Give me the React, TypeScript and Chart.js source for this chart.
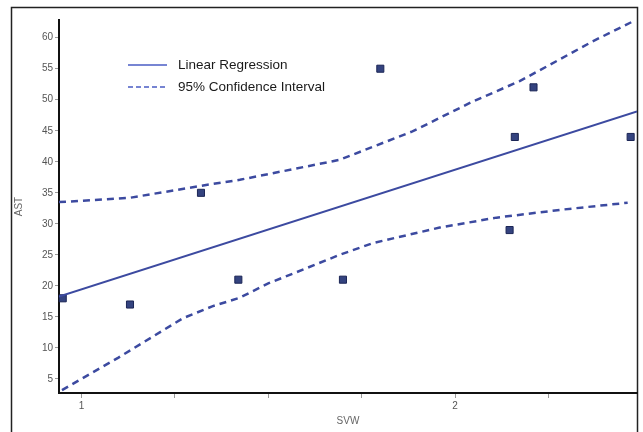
import React, { useEffect, useRef } from "react";
import { Chart, registerables } from "chart.js";

Chart.register(...registerables);

// Observed points (SVW, AST)
const svw = [0.95, 1.13, 1.32, 1.42, 1.70, 1.80, 2.146, 2.16, 2.21, 2.47];
const ast = [18, 17, 35, 21, 21, 55, 29, 44, 52, 44];

// Linear regression line (read at the plot edges)
const fitX = [0.94, 2.487];
const fitY = [18.3, 48.1];

// 95% confidence interval, upper band
const upperX = [0.94, 1.13, 1.317, 1.424, 1.69, 1.886, 2.047, 2.173, 2.271, 2.368, 2.472];
const upperY = [33.5, 34.2, 36.1, 37.1, 40.3, 44.9, 49.7, 53.0, 56.2, 59.4, 62.5];

// 95% confidence interval, lower band
const lowerX = [0.948, 1.098, 1.272, 1.35, 1.424, 1.50, 1.571, 1.691, 1.78, 1.959, 2.111, 2.288, 2.462];
const lowerY = [3.2, 8.4, 14.8, 16.7, 18.1, 20.4, 22.1, 25.0, 26.9, 29.4, 31.0, 32.3, 33.4];

const xTicks = [1, 1.25, 1.5, 1.75, 2, 2.25];
const yTicks = [5, 10, 15, 20, 25, 30, 35, 40, 45, 50, 55, 60];

const legendLabels = ["Linear Regression", "95% Confidence Interval"];

const zip = (xs: number[], ys: number[]) => xs.map((x, i) => ({ x, y: ys[i] }));

const LINE_COLOR = "#3c4aa0";
const FONT = "'Liberation Sans', Arial, sans-serif";

export default function App() {
  const ref = useRef<HTMLCanvasElement | null>(null);

  useEffect(() => {
    if (!ref.current) return;

    const framePlugin = {
      id: "frame",
      beforeDraw(chart: any) {
        const ctx = chart.ctx;
        ctx.save();
        ctx.fillStyle = "#ffffff";
        ctx.fillRect(0, 0, chart.width, chart.height);
        ctx.strokeStyle = "#222222";
        ctx.lineWidth = 1.5;
        ctx.strokeRect(11.5, 7.5, 626, 440);
        ctx.restore();
      },
    };

    const legendPlugin = {
      id: "customLegend",
      afterDatasetsDraw(chart: any) {
        const ctx = chart.ctx;
        ctx.save();
        const items = [
          { y: 65, dash: [] as number[], text: legendLabels[0] },
          { y: 87, dash: [5, 3], text: legendLabels[1] },
        ];
        items.forEach((it) => {
          ctx.beginPath();
          ctx.setLineDash(it.dash);
          ctx.strokeStyle = "#4a5cc4";
          ctx.lineWidth = 1.3;
          ctx.moveTo(128, it.y);
          ctx.lineTo(167, it.y);
          ctx.stroke();
          ctx.setLineDash([]);
          ctx.fillStyle = "#1a1a1a";
          ctx.font = `13.5px ${FONT}`;
          ctx.textBaseline = "middle";
          ctx.textAlign = "left";
          ctx.fillText(it.text, 178, it.y);
        });
        ctx.restore();
      },
    };

    const chart = new Chart(ref.current, {
      type: "scatter",
      data: {
        datasets: [
          {
            label: legendLabels[1] + " upper",
            data: zip(upperX, upperY),
            showLine: true,
            borderColor: LINE_COLOR,
            borderWidth: 2.5,
            borderDash: [7, 5],
            pointRadius: 0,
            tension: 0,
            fill: false,
          },
          {
            label: legendLabels[1] + " lower",
            data: zip(lowerX, lowerY),
            showLine: true,
            borderColor: LINE_COLOR,
            borderWidth: 2.5,
            borderDash: [7, 5],
            pointRadius: 0,
            tension: 0,
            fill: false,
          },
          {
            label: legendLabels[0],
            data: zip(fitX, fitY),
            showLine: true,
            borderColor: LINE_COLOR,
            borderWidth: 2,
            pointRadius: 0,
            fill: false,
          },
          {
            label: "AST",
            data: zip(svw, ast),
            showLine: false,
            pointStyle: "rect",
            pointRadius: 5,
            backgroundColor: "#34437f",
            borderColor: "#1c2656",
            borderWidth: 1,
            clip: false,
          } as any,
        ],
      },
      options: {
        responsive: false,
        animation: false,
        devicePixelRatio: 1,
        layout: { padding: { left: 0, top: 20, right: 6, bottom: 0 } },
        plugins: {
          legend: { display: false },
          tooltip: { enabled: false },
        },
        scales: {
          x: {
            type: "linear",
            min: 0.94,
            max: 2.487,
            afterBuildTicks: (scale: any) => {
              scale.ticks = xTicks.map((v) => ({ value: v }));
            },
            afterFit: (scale: any) => {
              scale.height = 39;
            },
            ticks: {
              autoSkip: false,
              maxRotation: 0,
              padding: 2,
              color: "#555555",
              font: { family: FONT, size: 10 },
              callback: (v: any) => (v === 1 || v === 2 ? String(v) : ""),
            },
            grid: { drawOnChartArea: false, tickLength: 5, color: "#999999" },
            border: { color: "#111111", width: 2 },
            title: {
              display: true,
              text: "SVW",
              color: "#666666",
              font: { family: FONT, size: 10 },
              padding: { top: 0, bottom: 5 },
            },
          },
          y: {
            type: "linear",
            min: 2.74,
            max: 62.85,
            afterBuildTicks: (scale: any) => {
              scale.ticks = yTicks.map((v) => ({ value: v }));
            },
            afterFit: (scale: any) => {
              scale.width = 59;
            },
            ticks: {
              autoSkip: false,
              padding: 2,
              color: "#555555",
              font: { family: FONT, size: 10 },
            },
            grid: { drawOnChartArea: false, tickLength: 4, color: "#999999" },
            border: { color: "#111111", width: 2 },
            title: {
              display: true,
              text: "AST",
              color: "#666666",
              font: { family: FONT, size: 10 },
              padding: { top: 13, bottom: 0 },
            },
          },
        },
      },
      plugins: [framePlugin, legendPlugin],
    });

    return () => chart.destroy();
  }, []);

  return (
    <div style={{ position: "absolute", left: 0, top: 0, width: 643, height: 432 }}>
      <canvas ref={ref} width={643} height={432} style={{ display: "block" }} />
    </div>
  );
}
